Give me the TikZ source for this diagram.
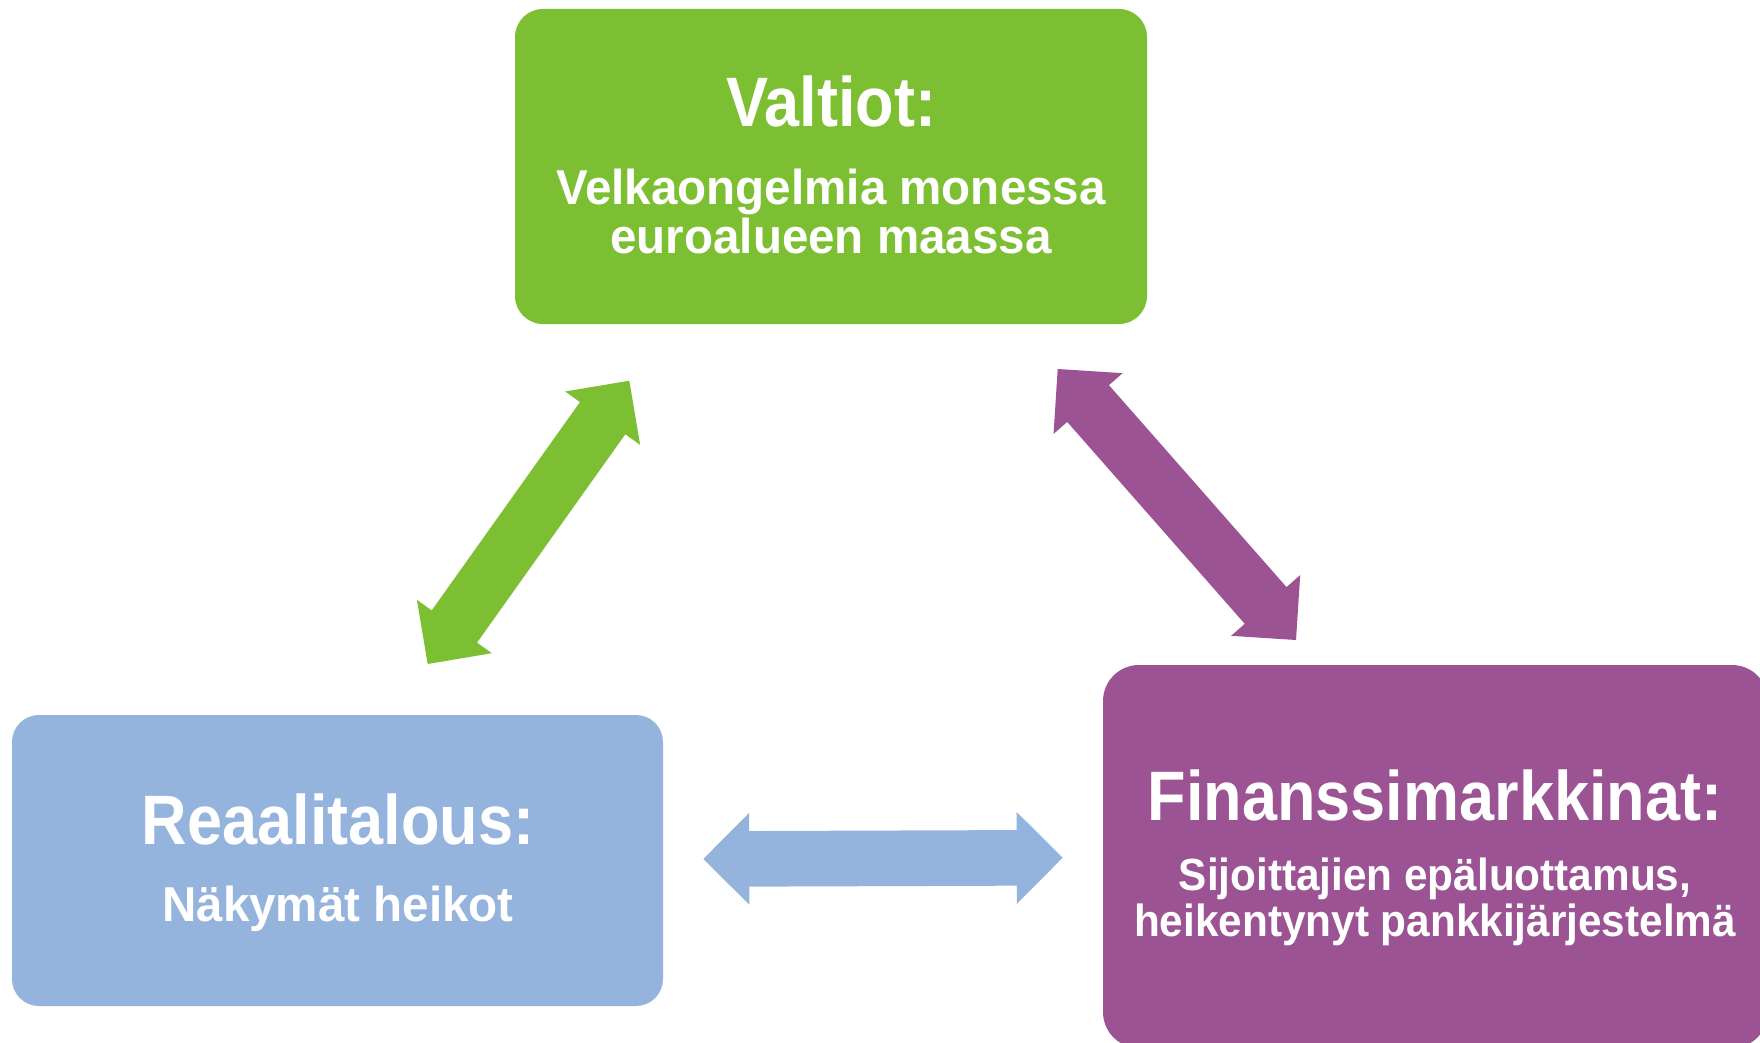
\documentclass[tikz,border=0pt]{standalone}
\usepackage{fontspec}
\setmainfont{Liberation Sans}
\newfontfamily\headfont[FakeStretch=0.90]{Liberation Sans}
\newfontfamily\bodyfont[FakeStretch=0.97]{Liberation Sans}
\newfontfamily\narrowbody[FakeStretch=0.94]{Liberation Sans}
\usetikzlibrary{calc}

\definecolor{valtiogreen}{HTML}{7DBF33}
\definecolor{realblue}{HTML}{95B4DD}
\definecolor{finpurple}{HTML}{9B5394}

\tikzset{
  panel/.style={draw=none, inner sep=0pt, rounded corners=#1},
  headtext/.style={text=white, inner sep=0pt, anchor=base,
    font=\headfont\bfseries\fontsize{35}{35}\selectfont},
  bodytext/.style={text=white, inner sep=0pt, anchor=base, align=center,
    font=\bodyfont\bfseries\fontsize{24.5}{24.7}\selectfont},
  smallbody/.style={text=white, inner sep=0pt, anchor=base, align=center,
    font=\narrowbody\bfseries\fontsize{22.5}{23}\selectfont},
}

% block-shaped two-headed arrow between two tip points
\newcommand\twowayarrow[3]{%
  \fill[#3] (#1)
    -- ($(#1)!23pt!(#2)!23pt!90:(#2)$)
    -- ($(#1)!23pt!(#2)!13.9pt!90:(#2)$)
    -- ($(#2)!23pt!(#1)!13.9pt!-90:(#1)$)
    -- ($(#2)!23pt!(#1)!23pt!-90:(#1)$)
    -- (#2)
    -- ($(#2)!23pt!(#1)!23pt!90:(#1)$)
    -- ($(#2)!23pt!(#1)!13.9pt!90:(#1)$)
    -- ($(#1)!23pt!(#2)!13.9pt!-90:(#2)$)
    -- ($(#1)!23pt!(#2)!23pt!-90:(#2)$)
    -- cycle;}

\begin{document}
\begin{tikzpicture}[x=0.5pt, y=-0.5pt]
  \fill[white] (0,0) rectangle (1760,1043);
  \useasboundingbox (0,0) rectangle (1760,1043);
  \clip (0,0) rectangle (1760,1043);

  % panels
  \node (valtiot) [panel=14pt, fill=valtiogreen, minimum width=316pt, minimum height=157.5pt] at (831,166.5) {};
  \node (reaali) [panel=13.5pt, fill=realblue, minimum width=325.5pt, minimum height=145.5pt] at (337.5,860.5) {};
  \node (finanssi) [panel=18pt, fill=finpurple, minimum width=332.5pt, minimum height=191.5pt] at (1435.5,856.5) {};

  % panel texts (a two-line node sits on the baseline of its last line)
  \node (valtiotT) [headtext] at (831,127) {Valtiot:};
  \node (valtiotB) [bodytext] at (831,254) {Velkaongelmia monessa\\euroalueen maassa};
  \node (reaaliT) [headtext] at (338,844) {Reaalitalous:};
  \node (reaaliB) [bodytext] at (338,921.5) {Näkymät heikot};
  \node (finanssiT) [headtext] at (1435,820.5) {Finanssimarkkinat:};
  \node (finanssiB) [smallbody] at (1435,936) {Sijoittajien epäluottamus,\\heikentynyt pankkijärjestelmä};

  % arrow tips
  \coordinate (gA) at (629.3,380.7);
  \coordinate (gB) at (427.7,664);
  \coordinate (pA) at (1057.7,369);
  \coordinate (pB) at (1296,640);
  \coordinate (bA) at (703.3,859);
  \coordinate (bB) at (1062.7,857.7);

  \twowayarrow{gA}{gB}{valtiogreen}
  \twowayarrow{pA}{pB}{finpurple}
  \twowayarrow{bA}{bB}{realblue}
\end{tikzpicture}
\end{document}
